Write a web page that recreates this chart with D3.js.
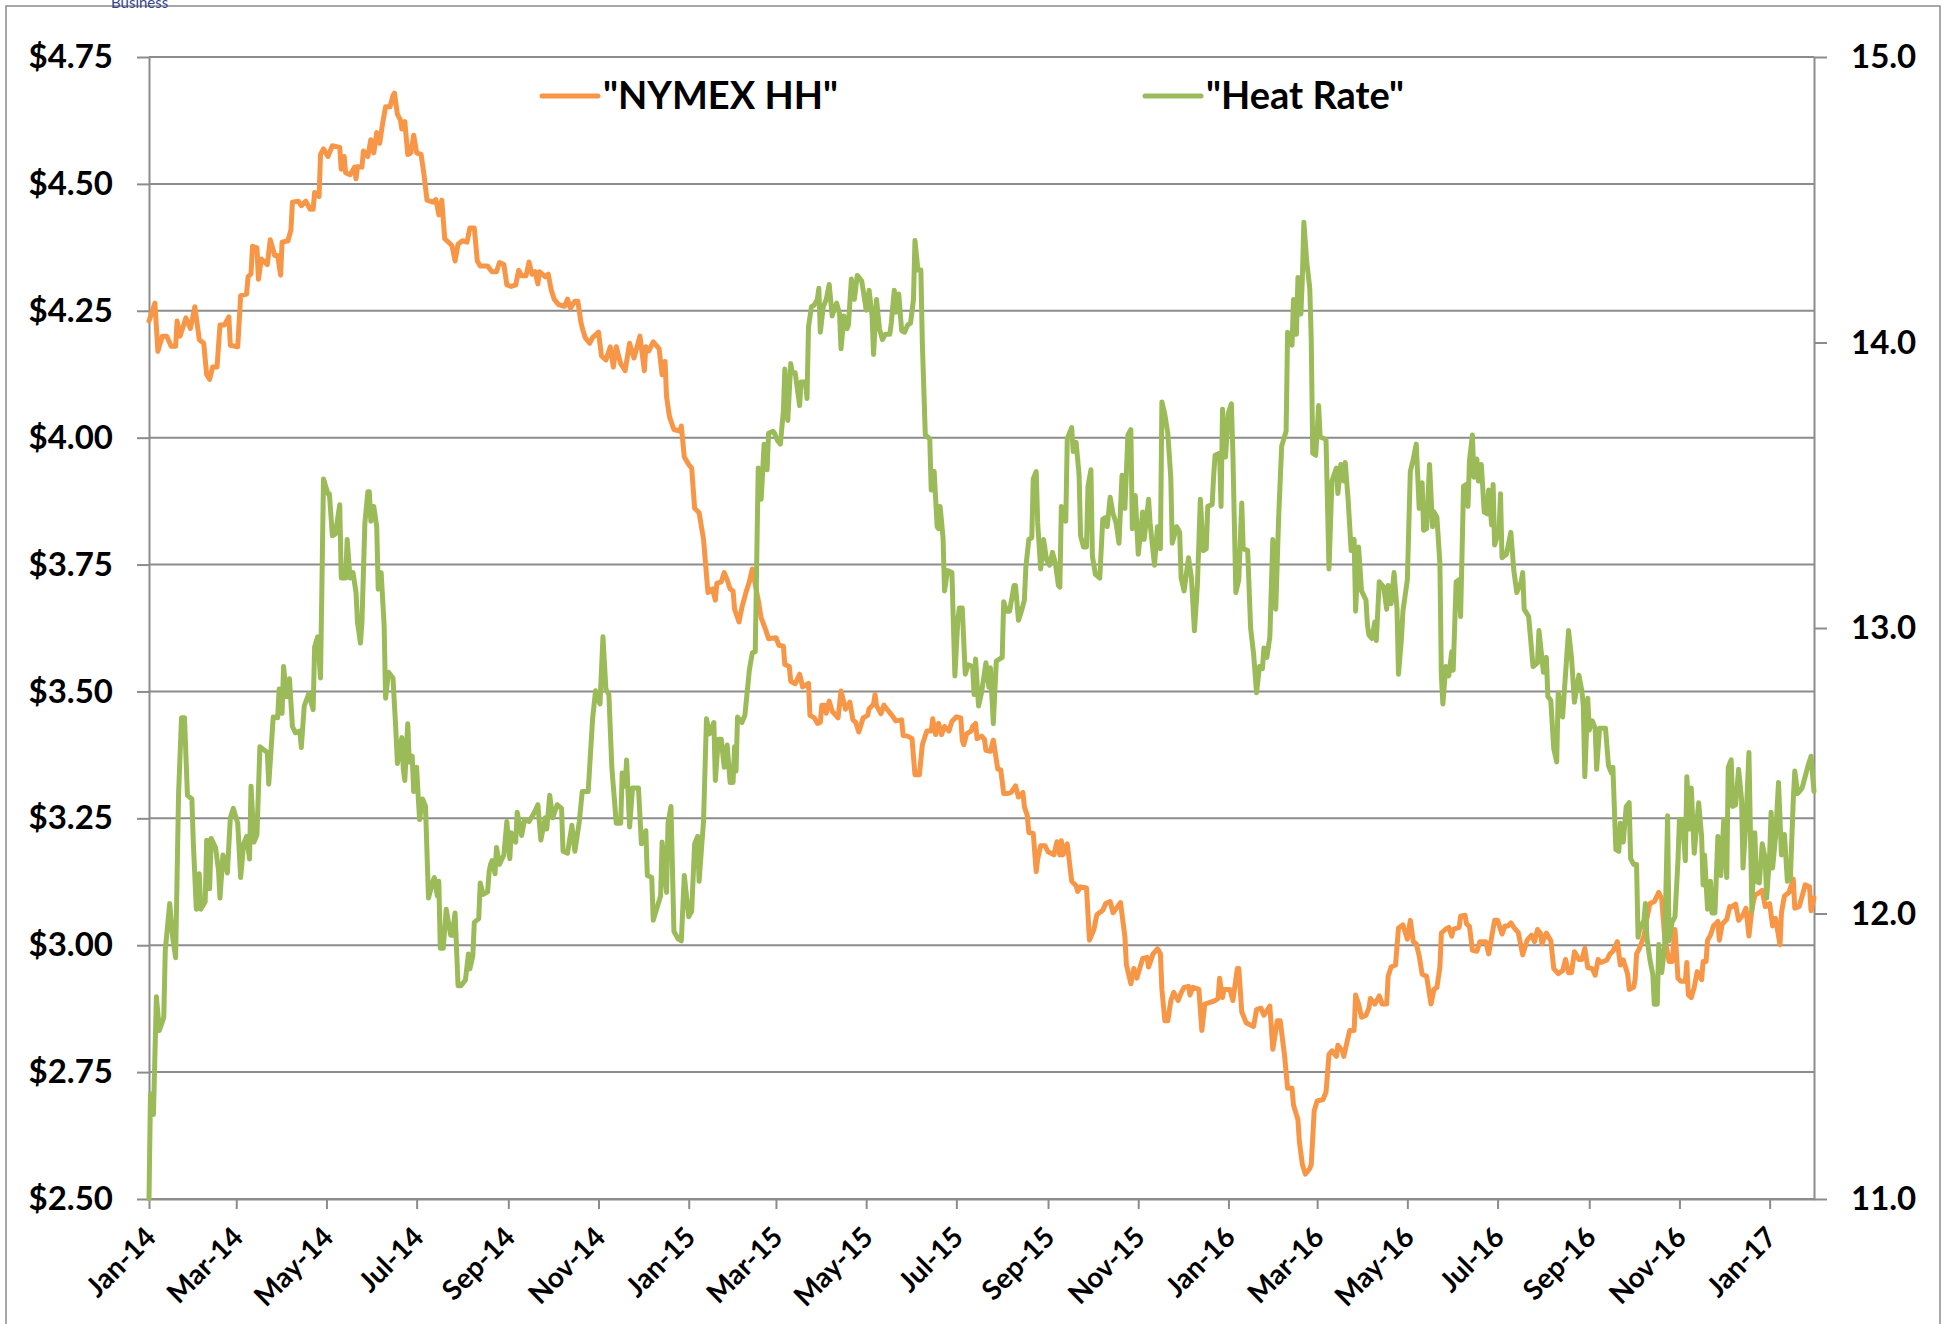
<!DOCTYPE html>
<html>
<head>
<meta charset="utf-8">
<script src="https://cdn.jsdelivr.net/npm/d3@7"></script>
<style>
  body { margin: 0; background: #fff; }
  svg { display: block; }
</style>
</head>
<body>
<svg id="chart" width="1950" height="1324"></svg>
<script>
// x positions are days counted from 1 Jan 2014
const startDate = new Date(2014, 0, 1);
const endDate = new Date(2017, 0, 31);

// NYMEX Henry Hub price, [day, $/MMBtu]
const hhSeries = [
  [0,4.23],[4,4.265],[6,4.17],[9,4.20],[12,4.20],[15,4.18],[18,4.18],[19,4.23],[21,4.20],[25,4.236],
  [28,4.215],[31,4.258],[34,4.193],[37,4.186],[39,4.124],[41,4.115],[43,4.139],[46,4.139],[48,4.222],[51,4.222],
  [54,4.238],[55,4.182],[60,4.179],[62,4.28],[66,4.283],[67,4.317],[69,4.323],[70,4.377],[73,4.374],[74,4.312],
  [76,4.352],[80,4.341],[82,4.39],[85,4.359],[87,4.359],[89,4.32],[90,4.385],[94,4.388],[96,4.41],[97,4.464],
  [101,4.466],[103,4.457],[106,4.466],[109,4.45],[111,4.45],[112,4.483],[115,4.475],[116,4.558],[118,4.569],[121,4.554],
  [124,4.575],[129,4.572],[130,4.529],[132,4.554],[133,4.522],[136,4.518],[139,4.533],[140,4.51],[141,4.534],[144,4.533],
  [145,4.565],[148,4.554],[150,4.587],[152,4.561],[154,4.601],[156,4.58],[158,4.619],[160,4.652],[163,4.652],[165,4.674],
  [166,4.679],[168,4.637],[170,4.626],[171,4.608],[173,4.623],[175,4.558],[177,4.561],[179,4.596],[181,4.561],[184,4.558],
  [186,4.518],[188,4.468],[192,4.464],[194,4.469],[196,4.439],[198,4.468],[200,4.392],[204,4.381],[205,4.377],[207,4.348],
  [209,4.381],[212,4.388],[215,4.385],[217,4.413],[220,4.413],[222,4.348],[224,4.338],[229,4.338],[232,4.327],[235,4.327],
  [237,4.345],[240,4.341],[242,4.301],[245,4.298],[248,4.301],[250,4.33],[252,4.319],[255,4.319],[257,4.346],[259,4.322],
  [261,4.327],[263,4.303],[264,4.327],[268,4.317],[270,4.322],[272,4.291],[274,4.273],[277,4.262],[281,4.259],[283,4.273],
  [285,4.255],[288,4.269],[290,4.269],[292,4.229],[293,4.216],[295,4.197],[298,4.186],[300,4.197],[304,4.208],[306,4.161],
  [309,4.153],[312,4.179],[314,4.139],[316,4.179],[319,4.146],[322,4.132],[325,4.186],[328,4.157],[332,4.2],[335,4.132],
  [336,4.179],[338,4.171],[341,4.189],[345,4.175],[347,4.124],[349,4.15],[350,4.081],[352,4.041],[355,4.016],[359,4.013],
  [360,4.023],[362,3.962],[365,3.947],[367,3.94],[369,3.861],[372,3.852],[375,3.80],[378,3.695],[381,3.702],[383,3.68],
  [384,3.713],[387,3.716],[389,3.734],[391,3.72],[393,3.702],[395,3.698],[396,3.662],[399,3.637],[401,3.666],[404,3.698],
  [406,3.716],[408,3.741],[412,3.68],[414,3.645],[417,3.622],[419,3.604],[424,3.606],[426,3.591],[429,3.589],[430,3.553],
  [433,3.549],[434,3.52],[437,3.515],[440,3.534],[442,3.509],[446,3.516],[447,3.453],[450,3.448],[452,3.437],[454,3.439],
  [455,3.473],[457,3.473],[458,3.457],[460,3.481],[462,3.461],[466,3.448],[468,3.501],[471,3.465],[474,3.479],[476,3.444],
  [478,3.439],[480,3.42],[483,3.448],[486,3.453],[487,3.466],[490,3.475],[491,3.494],[492,3.472],[495,3.456],[497,3.473],
  [499,3.465],[503,3.451],[505,3.442],[509,3.444],[510,3.413],[513,3.412],[516,3.407],[518,3.336],[521,3.336],[523,3.395],
  [526,3.422],[529,3.422],[530,3.446],[532,3.415],[534,3.437],[536,3.415],[538,3.431],[541,3.422],[543,3.441],[546,3.45],
  [549,3.448],[550,3.404],[551,3.395],[553,3.417],[556,3.422],[557,3.431],[559,3.437],[560,3.407],[563,3.412],[565,3.406],
  [566,3.384],[569,3.382],[571,3.404],[574,3.347],[576,3.346],[578,3.299],[581,3.299],[583,3.301],[586,3.314],[588,3.292],
  [591,3.301],[592,3.273],[594,3.255],[595,3.222],[598,3.22],[600,3.145],[601,3.17],[603,3.196],[606,3.196],[608,3.184],
  [612,3.178],[614,3.204],[616,3.178],[617,3.206],[618,3.178],[621,3.2],[624,3.126],[627,3.117],[628,3.106],[630,3.115],
  [634,3.113],[636,3.01],[639,3.031],[641,3.06],[645,3.069],[647,3.082],[650,3.086],[652,3.064],[655,3.076],[657,3.084],
  [660,3.016],[661,2.961],[664,2.924],[666,2.954],[668,2.935],[672,2.974],[675,2.976],[676,2.957],[679,2.983],[682,2.993],
  [684,2.983],[685,2.913],[687,2.851],[689,2.851],[691,2.89],[693,2.907],[696,2.891],[698,2.906],[700,2.917],[703,2.919],
  [704,2.902],[706,2.917],[710,2.913],[712,2.832],[714,2.884],[718,2.888],[721,2.891],[723,2.895],[724,2.935],[726,2.897],
  [727,2.913],[731,2.913],[733,2.891],[736,2.954],[737,2.954],[739,2.869],[742,2.847],[745,2.843],[747,2.84],[749,2.873],
  [752,2.876],[754,2.862],[758,2.88],[760,2.795],[763,2.851],[765,2.851],[768,2.781],[770,2.718],[773,2.718],[774,2.685],
  [777,2.656],[778,2.612],[780,2.568],[782,2.549],[785,2.56],[786,2.568],[788,2.674],[790,2.693],[794,2.696],[796,2.711],
  [798,2.785],[800,2.792],[803,2.781],[804,2.803],[807,2.792],[808,2.781],[810,2.807],[812,2.832],[815,2.832],[816,2.902],
  [818,2.884],[820,2.858],[823,2.862],[825,2.876],[826,2.895],[829,2.884],[832,2.9],[834,2.884],[837,2.884],[838,2.939],
  [840,2.957],[843,2.961],[845,3.034],[848,3.04],[851,3.012],[853,3.049],[855,3.007],[857,3.003],[859,2.979],[861,2.943],
  [864,2.939],[867,2.884],[869,2.913],[871,2.917],[873,2.957],[874,3.024],[877,3.032],[879,3.035],[881,3.018],[882,3.031],
  [886,3.035],[887,3.057],[890,3.059],[891,3.042],[893,3.037],[895,2.99],[898,2.988],[900,3.007],[904,3.007],[906,2.983],
  [908,3.016],[910,3.049],[912,3.049],[915,3.022],[917,3.038],[919,3.038],[921,3.044],[923,3.035],[926,3.025],[929,2.981],
  [932,3.01],[935,3.02],[937,3.007],[939,3.031],[941,3.024],[942,3.003],[945,3.024],[948,3.009],[950,2.954],[953,2.944],
  [956,2.95],[958,2.972],[960,2.946],[962,2.946],[964,2.987],[967,2.972],[969,2.972],[971,2.994],[973,2.956],[976,2.954],
  [978,2.941],[980,2.972],[982,2.966],[986,2.971],[988,2.983],[990,2.988],[993,3.007],[995,2.961],[997,2.971],[1000,2.943],
  [1001,2.913],[1004,2.917],[1005,2.932],[1006,2.983],[1008,2.994],[1011,3.018],[1013,3.053],[1015,3.082],[1018,3.086],[1021,3.104],
  [1023,3.091],[1025,3.016],[1028,2.968],[1030,2.968],[1032,3.031],[1034,2.935],[1036,2.929],[1039,2.929],[1040,2.966],[1041,2.902],
  [1043,2.897],[1045,2.917],[1047,2.948],[1050,2.932],[1051,2.968],[1053,2.968],[1054,3.01],[1056,3.02],[1058,3.038],[1061,3.047],
  [1062,3.01],[1064,3.042],[1067,3.051],[1069,3.076],[1070,3.075],[1073,3.081],[1075,3.049],[1078,3.06],[1080,3.073],[1082,3.018],
  [1084,3.071],[1086,3.098],[1089,3.104],[1091,3.108],[1093,3.076],[1096,3.082],[1098,3.038],[1100,3.053],[1103,3.001],[1104,3.064],
  [1106,3.097],[1109,3.104],[1112,3.13],[1113,3.073],[1116,3.076],[1118,3.097],[1120,3.119],[1123,3.115],[1124,3.068],[1126,3.093]
];

// Heat rate, [day, MMBtu/MWh]
const hrSeries = [
  [0,11.0],[1,11.368],[3,11.296],[5,11.708],[7,11.59],[10,11.636],[11,11.871],[14,12.035],[16,11.917],[18,11.845],
  [20,12.42],[22,12.686],[24,12.686],[26,12.414],[29,12.401],[30,12.244],[32,12.015],[34,12.139],[35,12.015],[38,12.041],
  [39,12.257],[41,12.087],[42,12.263],[45,12.231],[47,12.152],[48,12.054],[50,12.205],[53,12.142],[55,12.335],[57,12.368],
  [60,12.316],[62,12.126],[64,12.244],[66,12.27],[68,12.191],[69,12.446],[71,12.25],[73,12.276],[75,12.584],[80,12.564],
  [81,12.453],[84,12.688],[87,12.686],[88,12.786],[90,12.701],[91,12.865],[93,12.76],[95,12.822],[97,12.655],[99,12.633],
  [102,12.639],[103,12.581],[105,12.727],[108,12.769],[111,12.714],[112,12.934],[114,12.969],[116,12.825],[118,13.522],[121,13.47],
  [122,13.47],[124,13.323],[126,13.329],[129,13.432],[130,13.175],[133,13.175],[134,13.31],[136,13.175],[138,13.194],[140,13.124],
  [141,13.02],[143,12.947],[144,13.02],[146,13.368],[148,13.477],[149,13.477],[150,13.374],[152,13.426],[154,13.355],[155,13.136],
  [157,13.194],[159,13.011],[160,12.754],[162,12.845],[165,12.825],[167,12.636],[168,12.525],[171,12.616],[172,12.505],[173,12.466],
  [175,12.665],[176,12.531],[178,12.551],[179,12.427],[181,12.512],[182,12.414],[183,12.329],[185,12.401],[187,12.375],[189,12.054],
  [192,12.113],[193,12.126],[195,12.061],[196,12.113],[197,11.878],[199,11.878],[201,12.015],[204,11.924],[205,11.924],[207,12.002],
  [209,11.747],[211,11.747],[214,11.767],[216,11.858],[217,11.806],[219,11.852],[220,11.969],[223,11.982],[224,12.107],[226,12.067],
  [229,12.076],[230,12.146],[231,12.172],[232,12.185],[234,12.139],[235,12.231],[237,12.172],[240,12.205],[242,12.322],[244,12.192],
  [245,12.283],[248,12.25],[249,12.355],[252,12.273],[254,12.329],[257,12.322],[260,12.348],[263,12.381],[265,12.257],[268,12.335],
  [269,12.296],[271,12.414],[273,12.335],[276,12.381],[279,12.368],[280,12.218],[283,12.211],[286,12.309],[288,12.218],[291,12.322],
  [293,12.427],[297,12.427],[300,12.682],[302,12.78],[305,12.734],[307,12.969],[309,12.786],[311,12.767],[313,12.512],[316,12.316],
  [319,12.316],[320,12.492],[322,12.446],[323,12.538],[325,12.303],[327,12.44],[331,12.44],[333,12.244],[336,12.29],[337,12.133],
  [340,12.126],[341,11.976],[344,12.028],[346,12.061],[347,12.25],[350,12.074],[351,12.316],[353,12.375],[355,11.937],[358,11.91],
  [360,11.904],[362,12.133],[365,11.989],[367,12.008],[369,12.244],[371,12.27],[372,12.113],[375,12.322],[377,12.682],[379,12.629],
  [382,12.669],[383,12.466],[385,12.61],[387,12.61],[389,12.512],[391,12.59],[393,12.459],[395,12.459],[396,12.584],[397,12.499],
  [398,12.688],[401,12.669],[403,12.695],[406,12.852],[408,12.913],[410,12.917],[412,13.56],[414,13.451],[416,13.644],[418,13.554],
  [419,13.682],[422,13.689],[423,13.682],[425,13.657],[427,13.644],[429,13.759],[430,13.907],[432,13.727],[434,13.926],[435,13.894],
  [437,13.894],[440,13.779],[441,13.862],[444,13.862],[445,13.804],[446,14.055],[448,14.125],[450,14.132],[452,14.151],[453,14.19],
  [454,14.036],[456,14.125],[458,14.151],[460,14.203],[462,14.093],[464,14.125],[465,14.138],[467,14.1],[468,13.978],[470,14.093],
  [472,14.048],[473,14.061],[475,14.222],[477,14.151],[479,14.235],[482,14.215],[483,14.183],[485,14.113],[487,14.183],[489,14.093],
  [490,13.958],[492,14.151],[494,14.048],[496,14.01],[498,14.029],[501,14.029],[502,14.068],[504,14.183],[505,14.106],[507,14.17],
  [509,14.042],[511,14.036],[513,14.061],[515,14.068],[517,14.151],[518,14.357],[520,14.254],[522,14.254],[523,13.997],[525,13.676],
  [528,13.663],[529,13.483],[531,13.548],[533,13.355],[534,13.348],[535,13.426],[537,13.316],[538,13.13],[540,13.201],[543,13.194],
  [545,12.832],[547,13.028],[548,13.07],[550,13.07],[552,12.838],[554,12.871],[557,12.865],[558,12.767],[559,12.891],[561,12.727],
  [563,12.773],[566,12.878],[568,12.793],[569,12.861],[571,12.665],[573,12.884],[577,12.897],[578,13.092],[580,13.059],[582,13.059],
  [585,13.149],[586,13.149],[588,13.027],[590,13.059],[592,13.098],[593,13.214],[595,13.31],[597,13.316],[598,13.522],[600,13.548],
  [601,13.368],[603,13.207],[605,13.31],[607,13.239],[609,13.22],[611,13.265],[613,13.226],[615,13.149],[616,13.143],[617,13.426],
  [620,13.374],[621,13.663],[624,13.702],[625,13.618],[627,13.65],[629,13.535],[630,13.323],[632,13.284],[634,13.284],[635,13.496],
  [637,13.554],[638,13.252],[640,13.188],[643,13.175],[645,13.381],[647,13.387],[648,13.355],[650,13.458],[652,13.4],[654,13.368],
  [656,13.297],[658,13.535],[660,13.419],[662,13.676],[664,13.695],[665,13.348],[667,13.464],[669,13.258],[672,13.406],[673,13.31],
  [676,13.451],[677,13.368],[680,13.22],[682,13.355],[684,13.278],[685,13.792],[687,13.747],[689,13.682],[691,13.528],[692,13.297],
  [695,13.355],[697,13.336],[698,13.175],[700,13.13],[703,13.246],[705,13.175],[707,12.99],[709,13.149],[711,13.451],[713,13.271],
  [715,13.278],[716,13.426],[719,13.432],[720,13.535],[721,13.605],[724,13.612],[725,13.426],[726,13.766],[728,13.599],[730,13.753],
  [732,13.785],[733,13.612],[735,13.124],[737,13.169],[739,13.438],[740,13.278],[743,13.271],[745,13.0],[747,12.91],[749,12.773],
  [751,12.865],[753,12.858],[754,12.93],[756,12.897],[758,12.969],[760,13.31],[762,13.066],[764,13.393],[766,13.637],[769,13.689],
  [770,14.036],[773,13.991],[774,14.151],[776,14.029],[777,14.228],[779,14.1],[780,14.228],[781,14.421],[783,14.28],[785,14.19],
  [786,14.01],[787,13.612],[789,13.605],[791,13.779],[792,13.669],[795,13.663],[796,13.657],[798,13.207],[800,13.515],[803,13.56],
  [804,13.471],[806,13.573],[808,13.515],[809,13.58],[811,13.445],[813,13.271],[815,13.31],[816,13.059],[818,13.284],[820,13.13],
  [823,13.098],[824,13.011],[825,12.976],[827,12.963],[829,13.021],[830,12.956],[832,13.162],[835,13.143],[837,13.066],[838,13.149],
  [840,13.085],[842,13.194],[844,13.066],[845,12.838],[847,12.963],[848,13.059],[851,13.169],[853,13.548],[855,13.592],[857,13.644],
  [859,13.419],[861,13.509],[862,13.342],[864,13.348],[866,13.573],[868,13.355],[869,13.407],[871,13.387],[873,13.226],[874,12.832],
  [875,12.734],[877,12.865],[879,12.832],[881,12.917],[882,12.852],[884,13.162],[886,13.169],[887,13.04],[889,13.496],[891,13.503],
  [892,13.426],[893,13.586],[895,13.676],[896,13.528],[898,13.592],[899,13.515],[901,13.573],[903,13.406],[905,13.4],[906,13.483],
  [908,13.361],[909,13.503],[910,13.291],[913,13.342],[914,13.47],[915,13.246],[918,13.258],[921,13.335],[923,13.201],[925,13.124],
  [928,13.162],[929,13.194],[930,13.066],[933,13.04],[936,12.865],[939,12.878],[940,12.991],[943,12.845],[945,12.897],[946,12.76],
  [948,12.747],[950,12.577],[952,12.531],[953,12.773],[956,12.688],[957,12.767],[960,12.991],[962,12.897],[964,12.74],[965,12.773],
  [967,12.835],[969,12.78],[970,12.727],[971,12.479],[973,12.754],[974,12.642],[976,12.675],[978,12.649],[979,12.505],[981,12.649],
  [985,12.649],[987,12.518],[989,12.492],[990,12.512],[992,12.224],[994,12.218],[995,12.316],[997,12.25],[999,12.375],[1001,12.388],
  [1002,12.192],[1004,12.172],[1006,12.172],[1007,11.917],[1008,11.943],[1011,11.976],[1012,12.035],[1013,11.917],[1015,11.839],[1017,11.786],
  [1018,11.682],[1020,11.682],[1021,11.891],[1023,11.793],[1025,11.884],[1027,12.342],[1028,11.904],[1030,11.969],[1032,11.989],[1034,12.185],
  [1035,12.329],[1037,12.329],[1039,12.185],[1040,12.479],[1042,12.296],[1043,12.44],[1045,12.211],[1048,12.388],[1050,12.27],[1051,12.1],
  [1052,12.205],[1054,12.015],[1056,12.113],[1057,12.002],[1059,12.002],[1061,12.27],[1063,12.133],[1065,12.329],[1067,12.126],[1068,12.512],
  [1070,12.538],[1071,12.375],[1073,12.381],[1075,12.505],[1077,12.401],[1078,12.159],[1080,12.322],[1082,12.564],[1084,12.009],[1086,12.283],
  [1087,12.113],[1089,12.107],[1091,12.244],[1093,12.192],[1094,12.054],[1096,12.205],[1097,12.355],[1098,12.159],[1100,12.27],[1102,12.459],
  [1104,12.205],[1106,12.277],[1108,12.113],[1110,12.12],[1112,12.401],[1113,12.499],[1115,12.42],[1118,12.44],[1120,12.479],[1122,12.518],
  [1124,12.551],[1126,12.427]
];

// axis ticks
const priceTicks = [2.50, 2.75, 3.00, 3.25, 3.50, 3.75, 4.00, 4.25, 4.50, 4.75];
const rateTicks = [11, 12, 13, 14, 15];
const monthLabels = ["Jan-14","Mar-14","May-14","Jul-14","Sep-14","Nov-14","Jan-15","Mar-15","May-15","Jul-15",
  "Sep-15","Nov-15","Jan-16","Mar-16","May-16","Jul-16","Sep-16","Nov-16","Jan-17"];
const seriesNames = ['"NYMEX HH"', '"Heat Rate"'];
const seriesColors = ["#F79646", "#9BBB59"];

const FONT = "Lato, 'Liberation Sans', sans-serif";
const GRID = "#8c8c8c";

const svg = d3.select("#chart");

// outer frame (runs off the bottom of the picture)
svg.append("path")
  .attr("d", "M6,1330 L6,6 L1940,6 L1940,1330")
  .attr("fill", "none")
  .attr("stroke", GRID)
  .attr("stroke-width", 1.5);

// logo text peeking in at the top
svg.append("text")
  .attr("x", 111)
  .attr("y", 8)
  .attr("font-family", FONT)
  .attr("font-size", 15)
  .attr("fill", "#34468a")
  .text("Business");

const plot = { left: 149, right: 1814, top: 57, bottom: 1199 };

const x = d3.scaleTime()
  .domain([startDate, endDate])
  .range([plot.left, plot.right]);

const yPrice = d3.scaleLinear()
  .domain([2.5, 4.75])
  .range([plot.bottom, plot.top]);

const yRate = d3.scaleLinear()
  .domain([11, 15])
  .range([plot.bottom, plot.top]);

// horizontal gridlines
svg.append("g")
  .selectAll("line")
  .data(priceTicks)
  .enter()
  .append("line")
  .attr("x1", plot.left)
  .attr("x2", plot.right)
  .attr("y1", d => yPrice(d))
  .attr("y2", d => yPrice(d))
  .attr("stroke", GRID)
  .attr("stroke-width", 2);

function styleAxis(g, size) {
  g.attr("font-family", FONT)
    .attr("font-size", size)
    .attr("font-weight", "bold");
  g.selectAll("path, line").attr("stroke", GRID).attr("stroke-width", 2);
  g.selectAll("text").attr("fill", "#000");
}

// left axis ($)
svg.append("g")
  .attr("transform", `translate(${plot.left},0)`)
  .call(d3.axisLeft(yPrice)
    .tickValues(priceTicks)
    .tickSize(12)
    .tickSizeOuter(0)
    .tickPadding(24)
    .tickFormat(d => "$" + d.toFixed(2)))
  .call(g => styleAxis(g, 33));

// right axis (heat rate)
svg.append("g")
  .attr("transform", `translate(${plot.right},0)`)
  .call(d3.axisRight(yRate)
    .tickValues(rateTicks)
    .tickSize(13)
    .tickSizeOuter(0)
    .tickPadding(24)
    .tickFormat(d3.format(".1f")))
  .call(g => styleAxis(g, 33));

// bottom axis with slanted month labels
const parseMonth = d3.timeParse("%b-%y");
const monthDates = monthLabels.map(parseMonth);

svg.append("g")
  .attr("transform", `translate(0,${plot.bottom})`)
  .call(d3.axisBottom(x)
    .tickValues(monthDates)
    .tickSize(10)
    .tickSizeOuter(0)
    .tickFormat((d, i) => monthLabels[i]))
  .call(g => styleAxis(g, 28))
  .call(g => g.selectAll(".tick text")
    .attr("x", 0)
    .attr("y", 0)
    .attr("dy", 0)
    .attr("text-anchor", "end")
    .attr("transform", "translate(8,40) rotate(-45)"));

// series lines
const toDate = d => d3.timeDay.offset(startDate, d[0]);

const hhLine = d3.line()
  .x(d => x(toDate(d)))
  .y(d => yPrice(d[1]));

const hrLine = d3.line()
  .x(d => x(toDate(d)))
  .y(d => yRate(d[1]));

svg.append("path")
  .datum(hhSeries)
  .attr("d", hhLine)
  .attr("fill", "none")
  .attr("stroke", seriesColors[0])
  .attr("stroke-width", 5)
  .attr("stroke-linejoin", "round")
  .attr("stroke-linecap", "round");

svg.append("path")
  .datum(hrSeries)
  .attr("d", hrLine)
  .attr("fill", "none")
  .attr("stroke", seriesColors[1])
  .attr("stroke-width", 5)
  .attr("stroke-linejoin", "round")
  .attr("stroke-linecap", "round");

// legend
const legendItems = [
  { x: 542, name: seriesNames[0], color: seriesColors[0] },
  { x: 1145, name: seriesNames[1], color: seriesColors[1] }
];

const legend = svg.append("g")
  .selectAll("g")
  .data(legendItems)
  .enter()
  .append("g")
  .attr("transform", d => `translate(${d.x},96)`);

legend.append("line")
  .attr("x1", 0)
  .attr("x2", 56)
  .attr("stroke", d => d.color)
  .attr("stroke-width", 5)
  .attr("stroke-linecap", "round");

legend.append("text")
  .attr("x", 61)
  .attr("y", 13)
  .attr("font-family", FONT)
  .attr("font-size", 38)
  .attr("font-weight", "bold")
  .attr("fill", "#000")
  .text(d => d.name);
</script>
</body>
</html>
